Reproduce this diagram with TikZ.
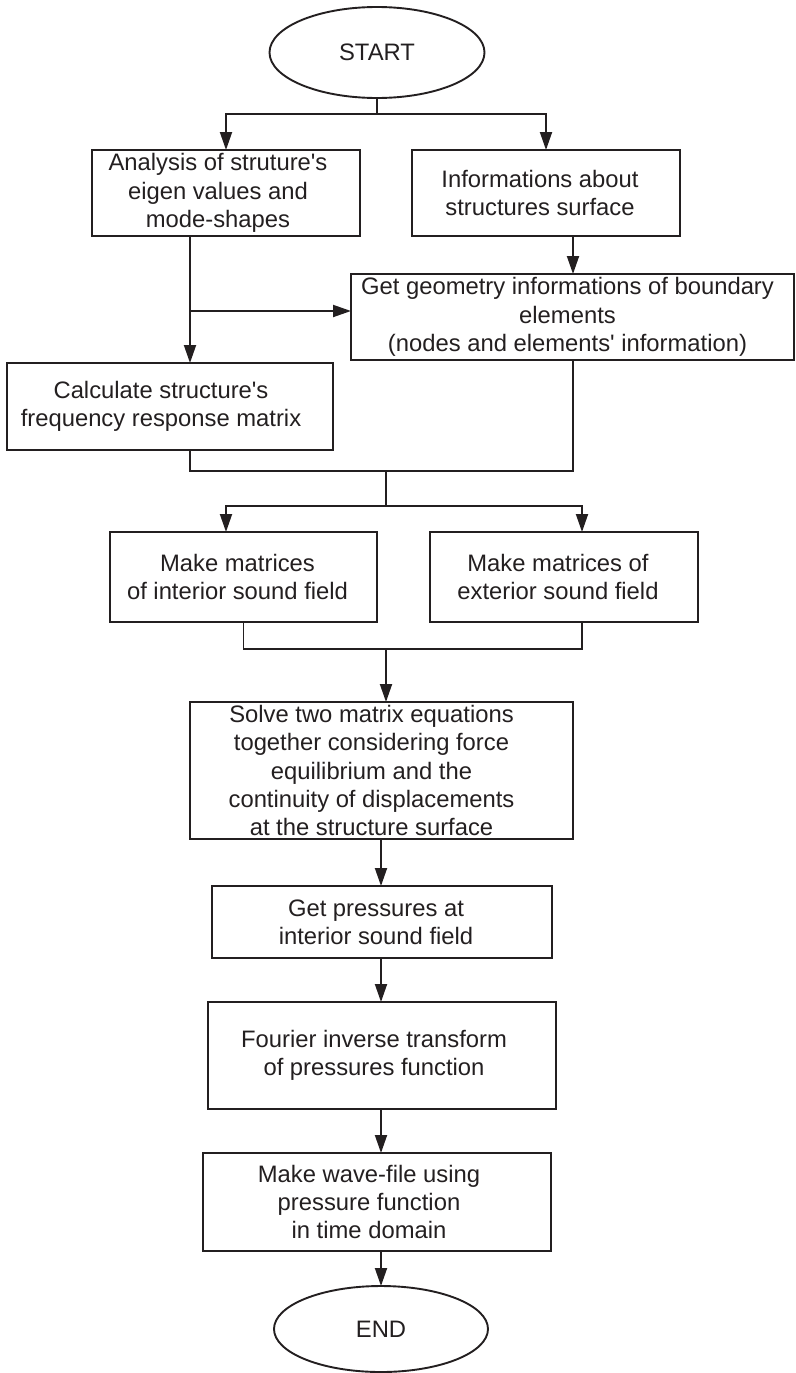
\documentclass[tikz,border=0pt]{standalone}
\usepackage{fontspec}
\setmainfont{Liberation Sans}
\usetikzlibrary{shapes.geometric,arrows.meta}
\definecolor{ink}{RGB}{35,31,32}
\newcommand{\apos}{\textquotesingle}
\begin{document}
\begin{tikzpicture}[x=1pt,y=-1pt,
  every node/.style={inner sep=0pt, outer sep=0pt},
  box/.style={draw=ink, line width=1.9pt, rectangle},
  term/.style={draw=ink, line width=1.9pt, ellipse},
  txt/.style={align=center, text=ink, font=\fontsize{23.8}{28.4}\selectfont},
  conn/.style={draw=ink, line width=1.9pt},
  arr/.style={conn, -{Triangle[length=18pt,width=12pt]}},
]
\useasboundingbox (0,0) rectangle (795,1373);

% terminals
\node[term, txt, minimum width=215pt, minimum height=91pt] (S) at (377,52.5) {START};
\node[term, txt, minimum width=214pt, minimum height=86pt] (END) at (381,1329) {END};

% boxes
\node[box, minimum width=268pt, minimum height=86pt] (A) at (226,193) {};
\node[box, minimum width=268pt, minimum height=86pt] (B) at (546,193) {};
\node[box, minimum width=443pt, minimum height=86pt] (C) at (572.5,317) {};
\node[box, minimum width=326pt, minimum height=87pt] (D) at (170,406.5) {};
\node[box, minimum width=267pt, minimum height=90pt] (E) at (243.5,577) {};
\node[box, minimum width=268pt, minimum height=90pt] (X) at (564,577) {};
\node[box, minimum width=383pt, minimum height=137pt] (F) at (381.5,770.5) {};
\node[box, minimum width=340pt, minimum height=72pt] (G) at (382,922) {};
\node[box, minimum width=348pt, minimum height=107pt] (H) at (382,1055.5) {};
\node[box, minimum width=348pt, minimum height=98pt] (I) at (377,1202) {};

% texts
\node[txt] (tA) at ([xshift=-8pt]A.center) {Analysis of struture\apos s\\eigen values and\\mode-shapes};
\node[txt] (tB) at ([xshift=-6pt]B.center) {Informations about\\structures surface};
\node[txt] (tC) at ([xshift=-5pt]C.center) {Get geometry informations of boundary\\elements\\(nodes and elements\apos\ information)};
\node[txt] (tD) at ([xshift=-9pt]D.center) {Calculate structure\apos s\\frequency response matrix};
\node[txt] (tE) at ([xshift=-6pt]E.center) {Make matrices\\of interior sound field};
\node[txt] (tX) at ([xshift=-6pt]X.center) {Make matrices of\\exterior sound field};
\node[txt] (tF) at ([xshift=-10pt]F.center) {Solve two matrix equations\\together considering force\\equilibrium and the\\continuity of displacements\\at the structure surface};
\node[txt] (tG) at ([xshift=-6pt]G.center) {Get pressures at\\interior sound field};
\node[txt] (tH) at ([xshift=-8pt]H.center) {Fourier inverse transform\\of pressures function};
\node[txt] (tI) at ([xshift=-8pt]I.center) {Make wave-file using\\pressure function\\in time domain};

% junction coordinates
\coordinate (j1) at (377,114);
\coordinate (a1) at (190,236);
\coordinate (a2) at (190,311);
\coordinate (j2) at (386,471);
\coordinate (j3) at (386,506);
\coordinate (j4) at (386,649);

% connectors
\draw[conn] (S.south) -- (j1);
\draw[arr] (j1) -| (A.north);
\draw[arr] (j1) -| (B.north);
\draw[arr] ([xshift=0.5pt]B.south -| C.north) -- ([xshift=0.5pt]C.north);
\draw[arr] (a1) -- (a1 |- D.north);
\draw[arr] (a2) -- (a2 -| C.west);
\draw[conn] (a1 |- D.south) |- (j2) -| ([xshift=0.5pt]C.south);
\draw[conn] (j2) -- (j3);
\draw[arr] (j3) -| ([xshift=-17.5pt]E.north);
\draw[arr] (j3) -| ([xshift=18pt]X.north);
\draw[conn] (E.south) |- (j4) -| ([xshift=18pt]X.south);
\draw[arr] (j4) -- (j4 |- F.north);
\draw[arr] ([xshift=-0.5pt]F.south) -- ([xshift=-0.5pt]F.south |- G.north);
\draw[arr] ([xshift=-1pt]G.south) -- ([xshift=-1pt]G.south |- H.north);
\draw[arr] ([xshift=-1pt]H.south) -- ([xshift=-1pt]H.south |- I.north);
\draw[arr] ([xshift=-1pt]H.south |- I.south) -- (END.north);
\end{tikzpicture}
\end{document}
